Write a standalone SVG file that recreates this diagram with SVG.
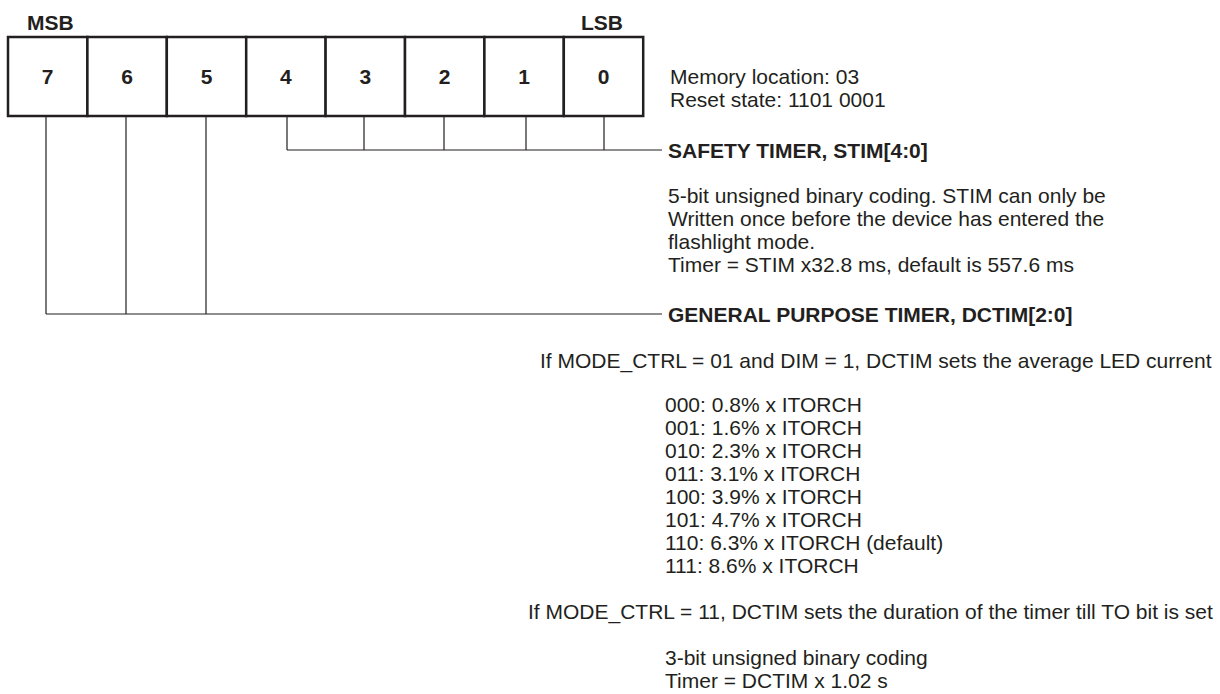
<svg xmlns="http://www.w3.org/2000/svg" width="1220" height="694" viewBox="0 0 1220 694">
<style>
.t{font-family:"Liberation Sans",Arial,sans-serif;font-size:21px;fill:#231f20}
.b{font-family:"Liberation Sans",Arial,sans-serif;font-size:21px;font-weight:bold;fill:#231f20}
.c{fill:#fff;stroke:#231f20;stroke-width:2.5}
.l{fill:none;stroke:#231f20;stroke-width:1.2}
</style>
<rect width="1220" height="694" fill="#fff"/>
<text class="b" x="27" y="30" font-size="20">MSB</text>
<text class="b" x="581" y="30" font-size="20">LSB</text>
<g id="register">
<g id="bit7"><rect class="c" x="8" y="37" width="79.4" height="79"/><text class="b" x="47.7" y="84" text-anchor="middle">7</text></g>
<g id="bit6"><rect class="c" x="87.4" y="37" width="79.4" height="79"/><text class="b" x="127.1" y="84" text-anchor="middle">6</text></g>
<g id="bit5"><rect class="c" x="166.8" y="37" width="79.4" height="79"/><text class="b" x="206.5" y="84" text-anchor="middle">5</text></g>
<g id="bit4"><rect class="c" x="246.2" y="37" width="79.4" height="79"/><text class="b" x="285.9" y="84" text-anchor="middle">4</text></g>
<g id="bit3"><rect class="c" x="325.6" y="37" width="79.4" height="79"/><text class="b" x="365.3" y="84" text-anchor="middle">3</text></g>
<g id="bit2"><rect class="c" x="405" y="37" width="79.4" height="79"/><text class="b" x="444.7" y="84" text-anchor="middle">2</text></g>
<g id="bit1"><rect class="c" x="484.4" y="37" width="79.4" height="79"/><text class="b" x="524.1" y="84" text-anchor="middle">1</text></g>
<g id="bit0"><rect class="c" x="563.8" y="37" width="79.4" height="79"/><text class="b" x="603.5" y="84" text-anchor="middle">0</text></g>
</g>
<g id="info">
<text class="t" x="670" y="84">Memory location: 03</text>
<text class="t" x="670" y="107">Reset state: 1101 0001</text>
</g>
<g id="connectors">
<path class="l" d="M287 117V150M364 117V150M444 117V150M526 117V150M604 117V150M287 150H662"/>
<path class="l" d="M46 117V314M126 117V314M206 117V314M46 314H662"/>
</g>
<g id="stim">
<text class="b" x="668" y="158">SAFETY TIMER, STIM[4:0]</text>
<text class="t" x="668" y="203">5-bit unsigned binary coding. STIM can only be</text>
<text class="t" x="668" y="226">Written once before the device has entered the</text>
<text class="t" x="668" y="249">flashlight mode.</text>
<text class="t" x="668" y="272">Timer = STIM x32.8 ms, default is 557.6 ms</text>
</g>
<g id="dctim">
<text class="b" x="668" y="322">GENERAL PURPOSE TIMER, DCTIM[2:0]</text>
<text class="t" x="540" y="368">If MODE_CTRL = 01 and DIM = 1, DCTIM sets the average LED current</text>
<text class="t" x="665" y="412">000: 0.8% x ITORCH</text>
<text class="t" x="665" y="435">001: 1.6% x ITORCH</text>
<text class="t" x="665" y="458">010: 2.3% x ITORCH</text>
<text class="t" x="665" y="481">011: 3.1% x ITORCH</text>
<text class="t" x="665" y="504">100: 3.9% x ITORCH</text>
<text class="t" x="665" y="527">101: 4.7% x ITORCH</text>
<text class="t" x="665" y="550">110: 6.3% x ITORCH (default)</text>
<text class="t" x="665" y="573">111: 8.6% x ITORCH</text>
<text class="t" x="528" y="619">If MODE_CTRL = 11, DCTIM sets the duration of the timer till TO bit is set</text>
<text class="t" x="665" y="665">3-bit unsigned binary coding</text>
<text class="t" x="665" y="688">Timer = DCTIM x 1.02 s</text>
</g>
</svg>
